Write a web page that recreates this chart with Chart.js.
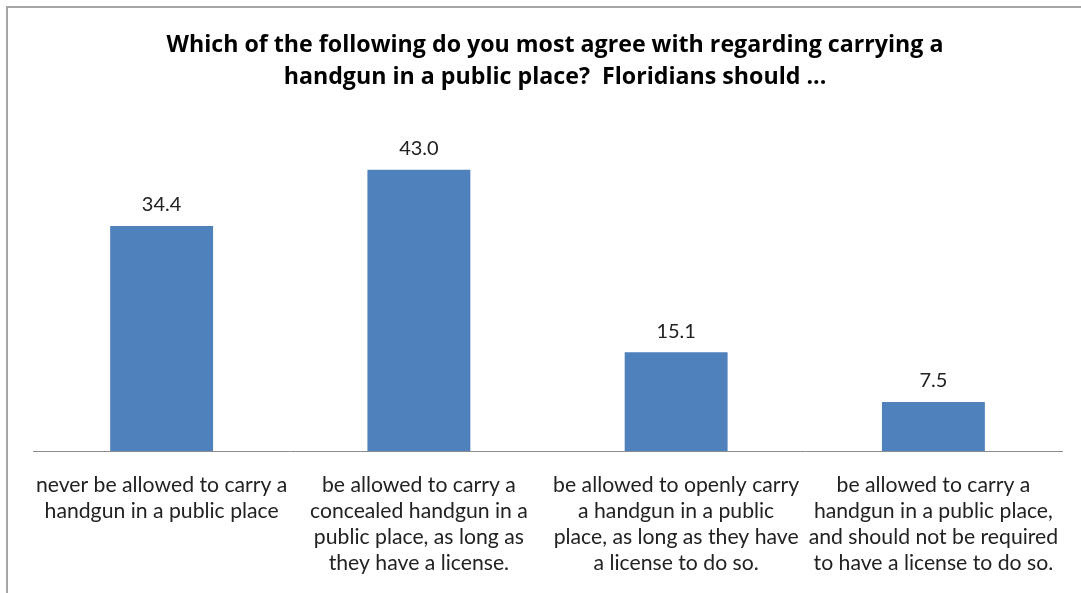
<!DOCTYPE html>
<html>
<head>
<meta charset="utf-8">
<script src="https://cdn.jsdelivr.net/npm/chart.js@4.4.0/dist/chart.umd.min.js"></script>
<style>
  html, body { margin: 0; padding: 0; background: #fff; overflow: hidden; }
  #wrap { position: absolute; left: 0; top: 0; width: 1081px; height: 593px; }
  #frame { position: absolute; left: 6px; top: 6px; width: 1100px; height: 620px; border: 2px solid #a6a6a6; box-sizing: border-box; }
  canvas { position: absolute; left: 0; top: 0; }
</style>
</head>
<body>
<div id="wrap">
  <div id="frame"></div>
  <canvas id="c" width="1081" height="593"></canvas>
</div>
<script>
const titleLines = [
  "Which of the following do you most agree with regarding carrying a",
  "handgun in a public place?  Floridians should ..."
];
const categories = [
  ["never be allowed to carry a", "handgun in a public place"],
  ["be allowed to carry a", "concealed handgun in a", "public place, as long as", "they have a license."],
  ["be allowed to openly carry", "a handgun in a public", "place, as long as they have", "a license to do so."],
  ["be allowed to carry a", "handgun in a public place,", "and should not be required", "to have a license to do so."]
];
const values = [34.4, 43.0, 15.1, 7.5];

const FONT = "Lato, 'Open Sans', sans-serif";
const TITLE_FONT = "'Open Sans', Lato, sans-serif";

const valueLabels = {
  id: 'valueLabels',
  afterDatasetsDraw(chart) {
    const ctx = chart.ctx;
    const meta = chart.getDatasetMeta(0);
    ctx.save();
    ctx.font = "20px " + FONT;
    ctx.fillStyle = "#222";
    ctx.textAlign = "center";
    ctx.textBaseline = "middle";
    meta.data.forEach((bar, i) => {
      ctx.fillText(values[i].toFixed(1), bar.x, bar.y - 21);
    });
    ctx.restore();
  }
};

const titleDraw = {
  id: 'titleDraw',
  afterDraw(chart) {
    const ctx = chart.ctx;
    ctx.save();
    ctx.font = "bold 23.2px " + TITLE_FONT;
    ctx.fillStyle = "#000";
    ctx.textAlign = "center";
    ctx.textBaseline = "middle";
    ctx.fillText(titleLines[0], 555, 45);
    ctx.fillText(titleLines[1], 555, 77);
    ctx.restore();
  }
};

new Chart(document.getElementById('c'), {
  type: 'bar',
  data: {
    labels: categories,
    datasets: [{
      data: values,
      backgroundColor: '#4F81BD',
      borderWidth: 0,
      categoryPercentage: 0.8,
      barPercentage: 0.5
    }]
  },
  options: {
    responsive: false,
    animation: false,
    layout: { padding: { left: 33, right: 15, top: 124, bottom: -4 } },
    plugins: {
      legend: { display: false },
      tooltip: { enabled: false },
      title: { display: false }
    },
    scales: {
      x: {
        grid: { display: false, drawTicks: false },
        border: { display: true, color: '#8c8c8c', width: 1 },
        ticks: {
          color: '#222',
          font: { family: FONT, size: 21.2, lineHeight: 26 / 21.2 },
          padding: 21,
          maxRotation: 0,
          minRotation: 0,
          autoSkip: false
        }
      },
      y: {
        display: false,
        min: 0,
        max: 50
      }
    }
  },
  plugins: [valueLabels, titleDraw]
});
</script>
</body>
</html>
